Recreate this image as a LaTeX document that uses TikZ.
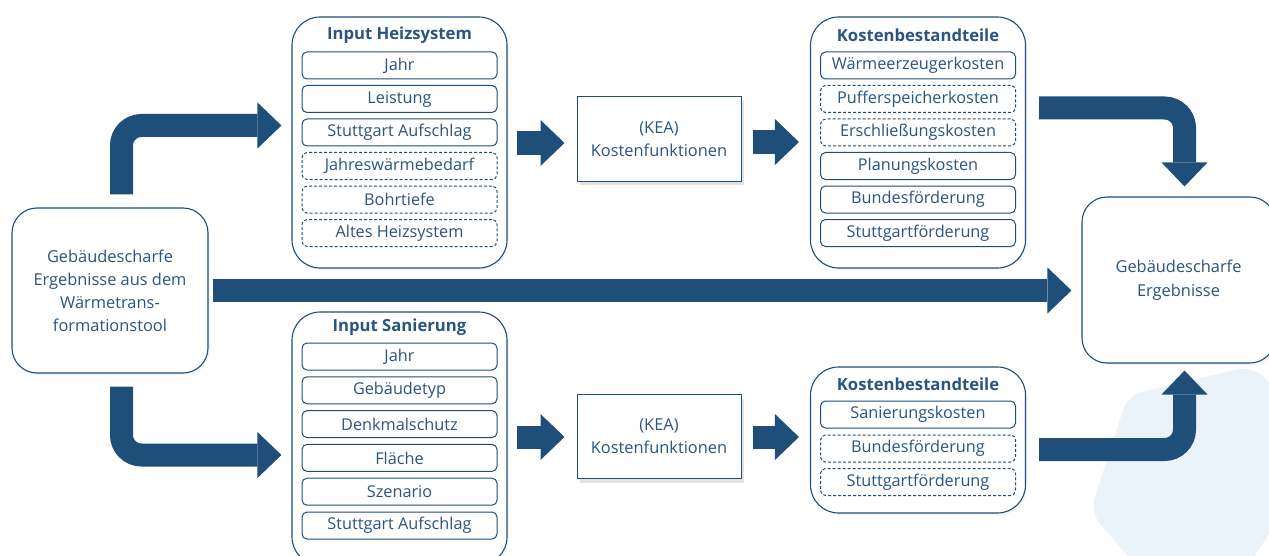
\documentclass[tikz,border=0pt]{standalone}
\usepackage{fontspec}
\setmainfont{Open Sans}
\usetikzlibrary{arrows.meta,shadows}
\newdimen\upx \upx=0.75pt
\definecolor{dblue}{HTML}{1F4E79}
\definecolor{tblue}{HTML}{2A5580}
\definecolor{bgblue}{HTML}{EAF2FA}
\tikzset{
  fat/.style={draw=dblue, line width=17.25pt, rounded corners=15pt,
    -{Triangle[width=34.5pt,length=18pt,line width=0pt]}},
  grp/.style={draw=dblue, line width=1.1\upx, rounded corners=28\upx, fill=white,
    minimum width=215\upx, inner sep=0pt,
    drop shadow={shadow xshift=2\upx, shadow yshift=-2\upx, opacity=0.08, fill=gray}},
  item/.style={draw=dblue, line width=1\upx, rounded corners=5\upx, fill=white,
    minimum width=195\upx, minimum height=27\upx, inner sep=0pt, text=tblue,
    font=\fontsize{12.2}{14}\selectfont},
  itemd/.style={item, dash pattern=on 3\upx off 2\upx},
  ttl/.style={font=\bfseries\fontsize{12.5}{14}\selectfont, text=tblue, inner sep=0pt},
  bignode/.style={draw=dblue, line width=1.1\upx, rounded corners=25\upx, fill=white,
    text=tblue, align=center, font=\fontsize{12.3}{17.25}\selectfont,
    drop shadow={shadow xshift=2\upx, shadow yshift=-2\upx, opacity=0.08, fill=gray}},
  kea/.style={draw=dblue, line width=1\upx, fill=white, text=tblue, align=center,
    minimum width=164\upx, minimum height=84\upx, inner sep=0pt,
    font=\fontsize{12.3}{17.25}\selectfont,
    drop shadow={shadow xshift=3\upx, shadow yshift=-4\upx, opacity=0.22, fill=gray}},
}
\begin{document}
\begin{tikzpicture}[x=0.75pt, y=-0.75pt]
\path[use as bounding box] (0,0) rectangle (1269,556);
\clip (0,0) rectangle (1269,556);
% background shape
\fill[bgblue, rounded corners=15\upx] (1128,395) -- (1252,366) -- (1330,440) -- (1200,640) -- (1090,512) -- cycle;

% source and result
\node[bignode, minimum width=196\upx, minimum height=165\upx] (src) at (110,290.5)
  {Gebäudescharfe\\Ergebnisse aus dem\\Wärmetrans-\\formationstool};
\node[bignode, minimum width=193\upx, minimum height=166\upx, font=\fontsize{12.3}{18}\selectfont]
  (res) at (1178.5,280) {Gebäudescharfe\\Ergebnisse};

% Input Heizsystem
\node[grp, minimum height=251\upx] (g1) at (399.5,142.5) {};
\node[ttl] (g1t) at (399.5,35) {Input Heizsystem};
\node[item]  (h1) at (399.5,65.5)  {Jahr};
\node[item]  (h2) at (399.5,99)    {Leistung};
\node[item]  (h3) at (399.5,132.5) {Stuttgart Aufschlag};
\node[itemd] (h4) at (399.5,166)   {Jahreswärmebedarf};
\node[itemd] (h5) at (399.5,199.5) {Bohrtiefe};
\node[itemd] (h6) at (399.5,233)   {Altes Heizsystem};

% Input Sanierung
\node[grp, minimum height=253\upx] (g2) at (399.5,438.5) {};
\node[ttl] (g2t) at (399.5,327) {Input Sanierung};
\node[item] (s1) at (399.5,356.5) {Jahr};
\node[item] (s2) at (399.5,390.3) {Gebäudetyp};
\node[item] (s3) at (399.5,424.1) {Denkmalschutz};
\node[item] (s4) at (399.5,457.9) {Fläche};
\node[item] (s5) at (399.5,491.7) {Szenario};
\node[item] (s6) at (399.5,525.5) {Stuttgart Aufschlag};

% KEA
\node[kea] (kea1) at (659,139) {(KEA)\\Kostenfunktionen};
\node[kea] (kea2) at (659,436.5) {(KEA)\\Kostenfunktionen};

% Kostenbestandteile top
\node[grp, minimum height=251\upx] (k1) at (918,142.5) {};
\node[ttl] (k1t) at (918,35) {Kostenbestandteile};
\node[item]  (c1) at (918,65.5)  {Wärmeerzeugerkosten};
\node[itemd] (c2) at (918,99)    {Pufferspeicherkosten};
\node[itemd] (c3) at (918,132.5) {Erschließungskosten};
\node[item]  (c4) at (918,166)   {Planungskosten};
\node[item]  (c5) at (918,199.5) {Bundesförderung};
\node[item]  (c6) at (918,233)   {Stuttgartförderung};

% Kostenbestandteile bottom
\node[grp, minimum height=146\upx] (k2) at (918,440) {};
\node[ttl] (k2t) at (918,384) {Kostenbestandteile};
\node[item]  (d1) at (918,414.5) {Sanierungskosten};
\node[itemd] (d2) at (918,448.5) {Bundesförderung};
\node[itemd] (d3) at (918,482) {Stuttgartförderung};

% arrows
\draw[fat, shorten <=9.75pt] ([xshift=11.5\upx]src.north) |- ([xshift=-10\upx]g1.west |- 0,125.5);
\draw[fat, shorten <=9.75pt] ([xshift=11.5\upx]src.south) |- ([xshift=-10\upx]g2.west |- 0,455);
\draw[fat, shorten <=3pt, shorten >=7.5pt] (src.east) -- (src.east -| res.west);
\draw[fat, shorten <=6.75pt, shorten >=9pt] (g1.east |- 0,143) -- (kea1.west |- 0,143);
\draw[fat, shorten <=8.25pt, shorten >=8.25pt] (kea1.east |- 0,142) -- (k1.west |- 0,142);
\draw[fat, shorten <=6.75pt, shorten >=9pt] (g2.east |- 0,437) -- (kea2.west |- 0,437);
\draw[fat, shorten <=8.25pt, shorten >=8.25pt] (kea2.east |- 0,437) -- (k2.west |- 0,437);
\draw[fat, shorten <=9.75pt, shorten >=7.5pt] (k1.east |- 0,108) -| (1184.5,0 |- res.north);
\draw[fat, shorten <=9.75pt, shorten >=5.25pt] (k2.east |- 0,449.5) -| (1184.5,0 |- res.south);
\end{tikzpicture}
\end{document}
